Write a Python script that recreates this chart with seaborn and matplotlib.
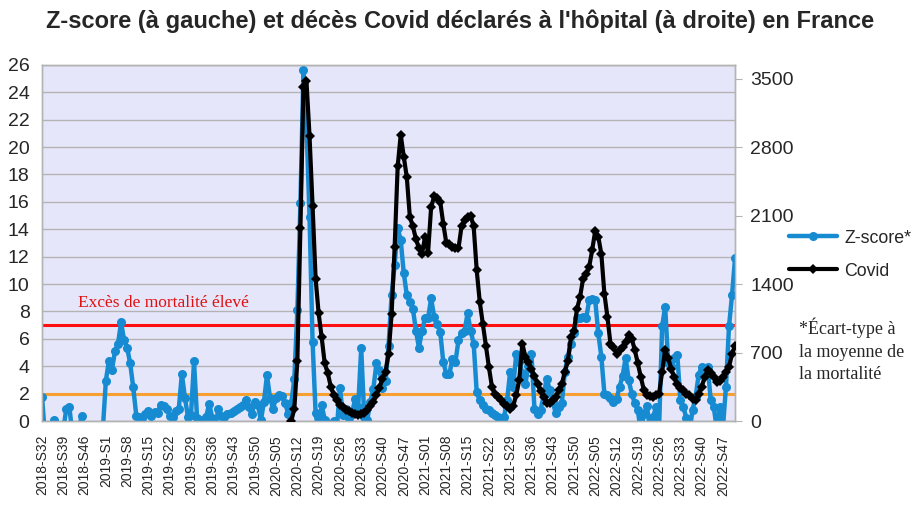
import pandas as pd
import matplotlib
matplotlib.use("Agg")
import matplotlib.pyplot as plt
import seaborn as sns

# weekly categories: 2018-S32 .. 2022-S51
years = [2018, 2019, 2020, 2021, 2022]
first_week = [32, 1, 1, 1, 1]
last_week = [52, 52, 53, 52, 51]

weeks = []
for y, a, b in zip(years, first_week, last_week):
    for w in range(a, b + 1):
        weeks.append(f"{y}-S{w}" if y == 2019 else f"{y}-S{w:02d}")

# Z-score (left axis); values below 0 fall off the axis like in the original
zscore = [
    1.75, -1.2, -1.5, -1.0, 0.05, -1.2, -0.8, -0.6, 0.9, 1.0,
    -1.0, -1.3, -0.8, 0.35, -0.8, -1.2, -1.5, -1.2, -1.6, -1.0,
    -0.6, 2.95, 4.4, 3.75, 5.1, 5.65, 7.2, 5.9, 5.35, 4.2,
    2.45, 0.4, 0.3, 0.2, 0.5, 0.7, 0.4, 0.65, 0.6, 1.2,
    1.1, 0.9, 0.4, 0.3, 0.7, 0.9, 3.45, 1.7, 0.3, 0.45,
    4.35, 0.2, 0.05, -0.6, 0.3, 1.27, 0.2, -0.5, 0.9, 0.4,
    0.3, 0.5, 0.6, 0.75, 0.9, 1.0, 1.2, 1.5, 1.0, 0.5,
    1.4, 1.2, 0.05, 1.4, 3.35, 1.7, 0.9, 1.7, 1.9, 1.8,
    1.3, 0.5, 1.3, 3.1, 8.1, 15.9, 25.6, 21.6, 14.9, 5.8,
    0.55, -0.8, 1.15, 0.1, -0.6, -0.8, 0.0, -0.5, 2.4, 0.45,
    0.9, 0.2, 0.6, 1.6, 1.0, 5.3, 0.3, 0.1, 1.4, 2.35,
    4.2, 3.7, 2.4, 2.9, 5.5, 9.2, 11.4, 14.1, 13.2, 10.8,
    9.2, 8.7, 8.2, 6.6, 5.35, 6.6, 7.5, 7.5, 8.95, 7.6,
    7.1, 6.5, 4.3, 3.45, 3.4, 4.55, 4.3, 5.9, 6.4, 6.6,
    7.85, 6.6, 5.65, 2.1, 1.5, 1.15, 0.9, 0.8, 0.6, 0.45,
    0.3, 0.2, 0.3, 1.5, 3.6, 2.5, 4.9, 4.3, 3.5, 2.7,
    4.0, 4.9, 0.9, 0.5, 0.8, 1.8, 3.1, 2.3, 1.4, 0.6,
    1.0, 1.3, 3.6, 4.7, 5.65, 6.4, 7.5, 7.5, 7.6, 7.5,
    8.8, 8.9, 8.8, 6.4, 4.7, 2.0, 1.9, 1.7, 1.4, 1.6,
    2.5, 3.3, 4.6, 3.0, 2.0, 1.3, 0.8, -0.8, 0.5, 1.1,
    -0.6, 0.3, 1.0, -0.5, 6.9, 8.35, 4.2, 4.0, 4.6, 4.8,
    1.5, 1.0, 0.2, -0.8, 0.8, 1.75, 3.35, 3.95, 3.8, 3.95,
    1.5, 1.0, -0.6, 1.0, -0.5, 2.5, 6.9, 9.2, 11.9,
]

# hospital Covid deaths per week (right axis), from 2020-S10
covid_start = "2020-S10"
covid = [
    0, 126, 616, 1974, 3416, 3472, 2912, 2198,
    1456, 1099, 854, 588, 490, 350, 266, 210, 168, 140,
    112, 98, 84, 70, 63, 70, 84, 112, 154, 196,
    266, 336, 434, 504, 686, 1092, 1778, 2604, 2926, 2702,
    2492, 2086, 1988, 1862, 1764, 1708, 1883, 1722, 2184, 2296,
    2282, 2240, 2016, 1820, 1806, 1778, 1764, 1764, 1988, 2058,
    2086, 2100, 1988, 1540, 1218, 994, 770, 553, 350, 280,
    245, 210, 178, 154, 126, 154, 266, 420, 791, 658,
    602, 532, 462, 378, 308, 245, 182, 182, 210, 245,
    315, 378, 504, 616, 854, 924, 1148, 1267, 1456, 1498,
    1575, 1750, 1946, 1883, 1708, 1302, 1064, 791, 756, 686,
    728, 756, 812, 882, 840, 728, 588, 448, 315, 266,
    252, 245, 266, 280, 504, 728, 644, 532, 448, 378,
    336, 315, 280, 266, 224, 210, 280, 350, 448, 518,
    490, 448, 399, 406, 448, 504, 553, 686, 770,
]

left_ticks = list(range(0, 27, 2))
right_ticks = [0, 700, 1400, 2100, 2800, 3500]

blue = "#168bd2"
grid_col = "#b3b3b3"

sns.set_style("white")
plt.rcParams["font.family"] = ["Liberation Sans", "DejaVu Sans"]
serif = ["Liberation Serif", "DejaVu Serif"]

n = len(weeks)
df_z = pd.DataFrame({"pos": range(n), "z": zscore})
i0 = weeks.index(covid_start)
df_c = pd.DataFrame({"pos": range(i0, i0 + len(covid)), "deces": covid})

fig = plt.figure(figsize=(9.2, 5.23), dpi=100)
ax = fig.add_axes([0.0457, 0.195, 0.7533, 0.681])
ax.set_facecolor("#e6e6fa")

ax.axhline(7, color="#ff1010", lw=2.2, zorder=1.5)
ax.axhline(2, color="#f5a030", lw=2.2, zorder=1.5)
sns.lineplot(data=df_z, x="pos", y="z", ax=ax, color=blue, lw=3.2, marker="o",
             markersize=6.5, markeredgewidth=0, legend=False, zorder=3)

ax2 = ax.twinx()
sns.lineplot(data=df_c, x="pos", y="deces", ax=ax2, color="black", lw=3, marker="D",
             markersize=5.5, markeredgewidth=0, legend=False, zorder=3)

ax.set_xlim(0, n - 1)
ax.set_ylim(0, 26)
ax2.set_ylim(0, 26 * 140)
ax.set_yticks(left_ticks)
ax2.set_yticks(right_ticks)
ax.yaxis.grid(True, color=grid_col, lw=1)
ax.set_axisbelow(True)

major = list(range(0, n, 7))
ax.set_xticks(major)
ax.set_xticklabels([weeks[i] for i in major], rotation=90, fontsize=10)
ax.set_xticks(range(n), minor=True)
ax.tick_params(axis="x", which="both", length=4, color=grid_col, pad=6)
ax.tick_params(axis="y", length=0, labelsize=14, pad=9)
ax2.tick_params(axis="y", length=5, color=grid_col, labelsize=14, pad=6)
ax.set_xlabel("")
ax.set_ylabel("")
ax2.set_ylabel("")

for a in (ax, ax2):
    for s in a.spines.values():
        s.set_color(grid_col)
        s.set_linewidth(1)

ax.text(11.8, 8.65, "Excès de mortalité élevé", color="#e01010",
        family=serif, fontsize=12.5, va="center")

fig.suptitle("Z-score (à gauche) et décès Covid déclarés à l'hôpital (à droite) en France",
             fontsize=17, fontweight="bold", y=0.982)

handles = ax.get_lines()[2:3] + ax2.get_lines()[:1]
fig.legend(handles, ["Z-score*", "Covid"], loc="center left",
           bbox_to_anchor=(0.858, 0.513), frameon=False, fontsize=12.8,
           handlelength=2.7, handletextpad=0.4, labelspacing=0.9,
           borderpad=0, borderaxespad=0)

fig.text(0.868, 0.392, "*Écart-type à\nla moyenne de\nla mortalité",
         family=serif, fontsize=13, va="top", linespacing=1.4)

fig.savefig("out.png", dpi=100)
